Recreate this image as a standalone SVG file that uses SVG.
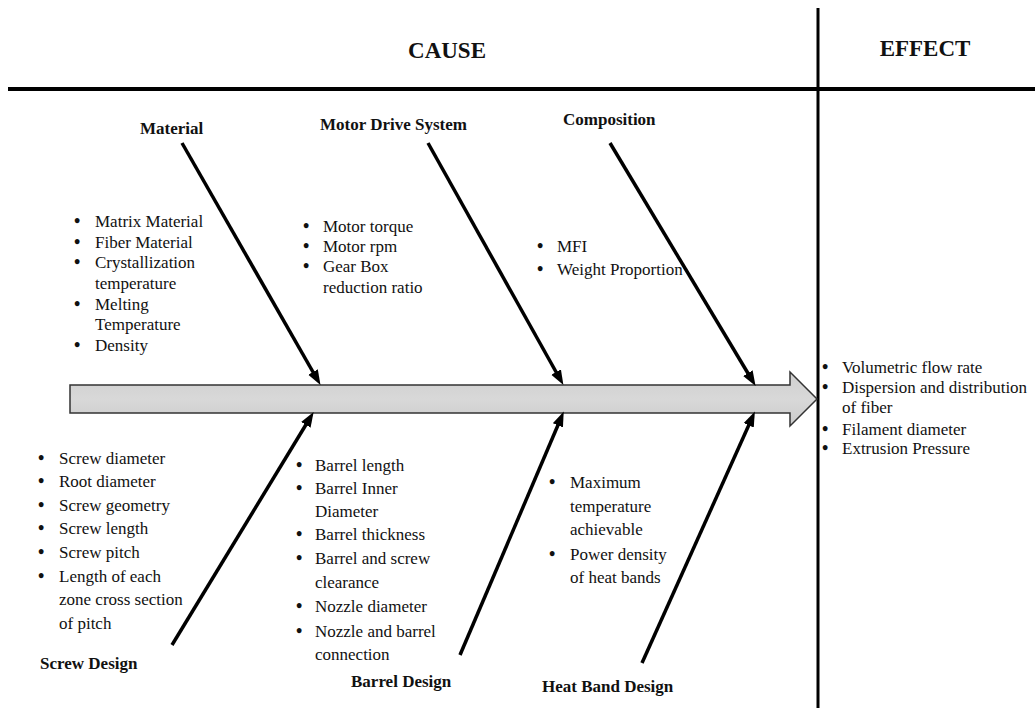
<svg xmlns="http://www.w3.org/2000/svg" width="1035" height="708" viewBox="0 0 1035 708">
<style>
text{font-family:"Liberation Serif","Times New Roman",serif;fill:#111;}
.h{font-size:23px;font-weight:bold;}
.t{font-size:17px;font-weight:bold;}
.l{font-size:17px;}
.b{font-size:18px;font-weight:bold;}
.bone{stroke:#000;stroke-width:3.5;fill:none;marker-end:url(#ah);}
.rule{stroke:#000;fill:none;}
</style>
<defs>
<marker id="ah" markerUnits="userSpaceOnUse" markerWidth="16" markerHeight="12" refX="8" refY="5.5" orient="auto">
<path d="M0,0 L15,5.5 L0,11 Z" fill="#000"/>
</marker>
<linearGradient id="spine" x1="0" y1="0" x2="0" y2="1">
<stop offset="0" stop-color="#cfcfcf"/>
<stop offset="0.5" stop-color="#d8d8d8"/>
<stop offset="1" stop-color="#cbcbcb"/>
</linearGradient>
</defs>
<rect width="1035" height="708" fill="#fff"/>

<g id="header">
<line class="rule" x1="8" y1="89" x2="1035" y2="89" stroke-width="4"/>
<line class="rule" x1="818" y1="8" x2="818" y2="708" stroke-width="3"/>
<text class="h" x="447" y="58" text-anchor="middle">CAUSE</text>
<text class="h" x="925" y="56" text-anchor="middle">EFFECT</text>
</g>

<g id="spine-arrow">
<path d="M70,385 L790,385 L790,372 L817,399 L790,426 L790,413 L70,413 Z" fill="url(#spine)" stroke="#333" stroke-width="1.5"/>
</g>

<g id="connectors">
<line class="bone" x1="182" y1="143" x2="317" y2="379"/>
<line class="bone" x1="428" y1="143" x2="560" y2="379"/>
<line class="bone" x1="610" y1="143" x2="752" y2="380"/>
<line class="bone" x1="172" y1="645" x2="310" y2="418"/>
<line class="bone" x1="460" y1="655" x2="561" y2="418"/>
<line class="bone" x1="642" y1="663" x2="752" y2="418"/>
</g>

<g id="material">
<text class="t" x="140" y="134">Material</text>
<text class="b" x="74" y="227">•</text><text class="l" x="95" y="227">Matrix Material</text>
<text class="b" x="74" y="248">•</text><text class="l" x="95" y="248">Fiber Material</text>
<text class="b" x="74" y="268">•</text><text class="l" x="95" y="268">Crystallization</text>
<text class="l" x="95" y="289">temperature</text>
<text class="b" x="74" y="310">•</text><text class="l" x="95" y="310">Melting</text>
<text class="l" x="95" y="330">Temperature</text>
<text class="b" x="74" y="351">•</text><text class="l" x="95" y="351">Density</text>
</g>

<g id="motor-drive-system">
<text class="t" x="320" y="130">Motor Drive System</text>
<text class="b" x="303" y="232">•</text><text class="l" x="323" y="232">Motor torque</text>
<text class="b" x="303" y="252">•</text><text class="l" x="323" y="252">Motor rpm</text>
<text class="b" x="303" y="272">•</text><text class="l" x="323" y="272">Gear Box</text>
<text class="l" x="323" y="293">reduction ratio</text>
</g>

<g id="composition">
<text class="t" x="563" y="125">Composition</text>
<text class="b" x="537" y="252">•</text><text class="l" x="557" y="252">MFI</text>
<text class="b" x="537" y="275">•</text><text class="l" x="557" y="275">Weight Proportion</text>
</g>

<g id="screw-design">
<text class="b" x="38" y="464">•</text><text class="l" x="59" y="464">Screw diameter</text>
<text class="b" x="38" y="487">•</text><text class="l" x="59" y="487">Root diameter</text>
<text class="b" x="38" y="511">•</text><text class="l" x="59" y="511">Screw geometry</text>
<text class="b" x="38" y="534">•</text><text class="l" x="59" y="534">Screw length</text>
<text class="b" x="38" y="558">•</text><text class="l" x="59" y="558">Screw pitch</text>
<text class="b" x="38" y="582">•</text><text class="l" x="59" y="582">Length of each</text>
<text class="l" x="59" y="605">zone cross section</text>
<text class="l" x="59" y="629">of pitch</text>
<text class="t" x="40" y="669">Screw Design</text>
</g>

<g id="barrel-design">
<text class="b" x="296" y="471">•</text><text class="l" x="315" y="471">Barrel length</text>
<text class="b" x="296" y="494">•</text><text class="l" x="315" y="494">Barrel Inner</text>
<text class="l" x="315" y="517">Diameter</text>
<text class="b" x="296" y="540">•</text><text class="l" x="315" y="540">Barrel thickness</text>
<text class="b" x="296" y="564">•</text><text class="l" x="315" y="564">Barrel and screw</text>
<text class="l" x="315" y="588">clearance</text>
<text class="b" x="296" y="612">•</text><text class="l" x="315" y="612">Nozzle diameter</text>
<text class="b" x="296" y="637">•</text><text class="l" x="315" y="637">Nozzle and barrel</text>
<text class="l" x="315" y="660">connection</text>
<text class="t" x="351" y="687">Barrel Design</text>
</g>

<g id="heat-band-design">
<text class="b" x="549" y="488">•</text><text class="l" x="570" y="488">Maximum</text>
<text class="l" x="570" y="512">temperature</text>
<text class="l" x="570" y="535">achievable</text>
<text class="b" x="549" y="560">•</text><text class="l" x="570" y="560">Power density</text>
<text class="l" x="570" y="583">of heat bands</text>
<text class="t" x="542" y="692">Heat Band Design</text>
</g>

<g id="effect">
<text class="b" x="822" y="373">•</text><text class="l" x="842" y="373">Volumetric flow rate</text>
<text class="b" x="822" y="393">•</text><text class="l" x="842" y="393">Dispersion and distribution</text>
<text class="l" x="842" y="413">of fiber</text>
<text class="b" x="822" y="435">•</text><text class="l" x="842" y="435">Filament diameter</text>
<text class="b" x="822" y="454">•</text><text class="l" x="842" y="454">Extrusion Pressure</text>
</g>
</svg>
